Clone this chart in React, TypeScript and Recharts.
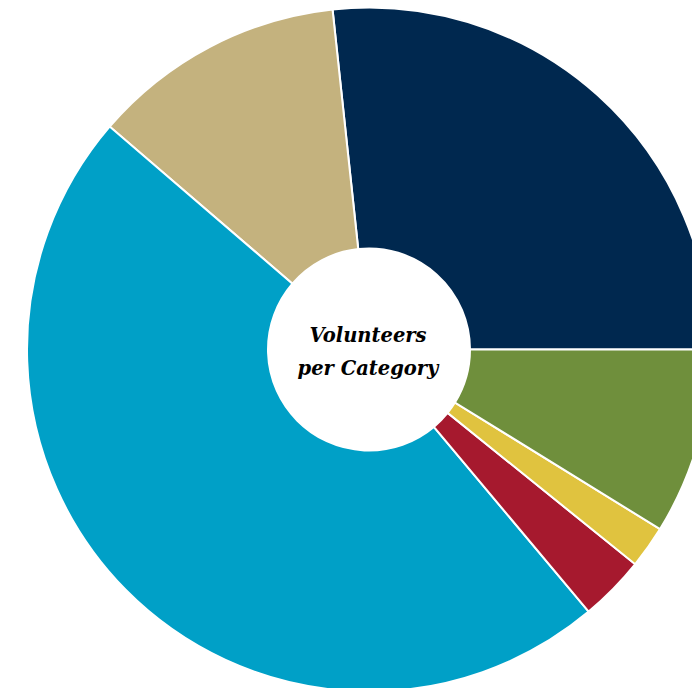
import React from 'react';
import { PieChart, Pie, Cell, Label } from 'recharts';

const categories = ['Category A', 'Category B', 'Category C', 'Category D', 'Category E', 'Category F'];
const volunteers = [267, 120, 474, 31, 20, 88];
const colors = ['#00284F', '#C4B27E', '#00A0C7', '#A6192E', '#E0C33F', '#6F8F3C'];
const centerLines = ['Volunteers', 'per Category'];

const data = categories.map((name, i) => ({ name, value: volunteers[i] }));

const renderCenter = (props: any) => {
  const vb = props.viewBox || {};
  const cx = vb.cx ?? 369;
  const cy = vb.cy ?? 349.5;
  return (
    <text
      x={cx}
      y={cy}
      textAnchor="middle"
      fontFamily="'DejaVu Serif', serif"
      fontWeight="bold"
      fontStyle="italic"
      fontSize={19.5}
      fill="#000"
    >
      <tspan x={cx - 1} y={cy - 8}>{centerLines[0]}</tspan>
      <tspan x={cx - 1} y={cy + 25.5}>{centerLines[1]}</tspan>
    </text>
  );
};

export default function App() {
  return (
    <div style={{ position: 'absolute', left: 0, top: 0, width: 692, height: 688, background: '#fff' }}>
      <PieChart width={692} height={688} margin={{ top: 0, right: 0, bottom: 0, left: 0 }}>
        <Pie
          data={data}
          dataKey="value"
          nameKey="name"
          cx={369}
          cy={349.5}
          innerRadius={101}
          outerRadius={342}
          startAngle={0}
          endAngle={360}
          stroke="#ffffff"
          strokeWidth={2}
          isAnimationActive={false}
        >
          {data.map((d, i) => (
            <Cell key={d.name} fill={colors[i]} />
          ))}
          <Label position="center" content={renderCenter} />
        </Pie>
      </PieChart>
    </div>
  );
}
